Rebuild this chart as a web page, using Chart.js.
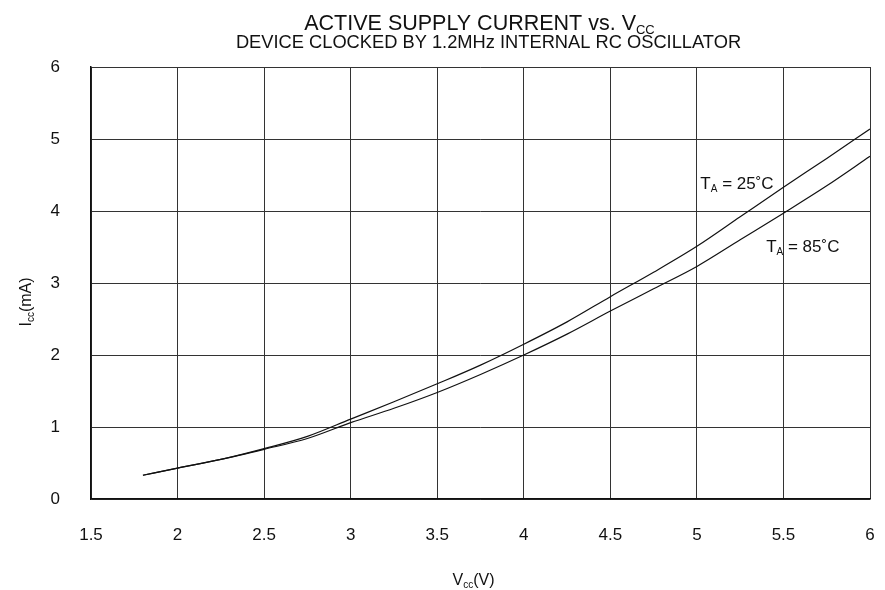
<!DOCTYPE html>
<html lang="en">
<head>
    <meta charset="UTF-8">
    <title>Active Supply Current vs. Vcc</title>
    <style>
        body { margin: 0; background: #fff; }
        #wrap { width: 885px; height: 590px; }
    </style>
</head>
<body>
    <div id="wrap"><canvas id="myChart"></canvas></div>

    <script src="https://cdn.jsdelivr.net/npm/chart.js"></script>
    <script>
        // Vcc (V)
        const vcc = [1.8, 2.0, 2.25, 2.5, 2.75, 3.0, 3.25, 3.5, 3.75, 4.0, 4.25, 4.5, 4.75, 5.0, 5.25, 5.5, 5.75, 6.0]
        // Icc (mA)
        const icc25 = [0.33, 0.43, 0.55, 0.70, 0.87, 1.11, 1.35, 1.60, 1.86, 2.15, 2.46, 2.81, 3.15, 3.51, 3.92, 4.33, 4.73, 5.14]
        const icc85 = [0.33, 0.43, 0.55, 0.69, 0.84, 1.06, 1.26, 1.48, 1.73, 2.00, 2.29, 2.61, 2.92, 3.23, 3.60, 3.97, 4.35, 4.76]
        const xTicks = [1.5, 2, 2.5, 3, 3.5, 4, 4.5, 5, 5.5, 6]
        const yTicks = [0, 1, 2, 3, 4, 5, 6]

        const FONT = '"Liberation Sans", Arial, sans-serif'

        function pts(ys) {
            return vcc.map((v, i) => ({ x: v, y: ys[i] }))
        }

        // text with a subscript part: parts = [[text, sub?], ...]
        function drawParts(c, parts, x, y, size, align) {
            const subSize = Math.round(size * 0.6)
            let total = 0
            parts.forEach(p => {
                c.font = (p[1] ? subSize : size) + 'px ' + FONT
                total += c.measureText(p[0]).width
            })
            let cx = align == 'center' ? x - total / 2 : x
            c.textAlign = 'left'
            c.textBaseline = 'alphabetic'
            parts.forEach(p => {
                c.font = (p[1] ? subSize : size) + 'px ' + FONT
                c.fillText(p[0], cx, p[1] ? y + size * 0.18 : y)
                cx += c.measureText(p[0]).width
            })
        }

        const labelsPlugin = {
            id: 'labels',
            afterDraw(chart) {
                const c = chart.ctx
                const a = chart.chartArea
                const mid = (a.left + a.right) / 2
                c.save()
                c.fillStyle = '#111'
                drawParts(c, [['ACTIVE SUPPLY CURRENT vs. V', false], ['CC', true]], mid - 1, 30, 21.5, 'center')
                drawParts(c, [['DEVICE CLOCKED BY 1.2MHz INTERNAL RC OSCILLATOR', false]], mid + 8, 48, 18.3, 'center')
                drawParts(c, [['V', false], ['cc', true], ['(V)', false]], mid - 7, 585, 16, 'center')

                c.save()
                c.translate(26, 302)
                c.rotate(-Math.PI / 2)
                drawParts(c, [['I', false], ['cc', true], ['(mA)', false]], 0, 5, 16, 'center')
                c.restore()

                const xs = chart.scales.x, ys = chart.scales.y
                drawParts(c, [['T', false], ['A', true], [' = 25\u02daC', false]], xs.getPixelForValue(5.02), ys.getPixelForValue(4.31), 17, 'left')
                drawParts(c, [['T', false], ['A', true], [' = 85\u02daC', false]], xs.getPixelForValue(5.4), ys.getPixelForValue(3.43), 17, 'left')
                c.restore()
            }
        }

        const ctx = document.getElementById('myChart')
        myChart = new Chart(ctx, {
            type: 'line',
            data: {
                datasets: [{
                    label: 'TA = 25°C',
                    data: pts(icc25),
                    borderColor: '#111',
                    borderWidth: 1.2,
                    pointRadius: 0,
                    cubicInterpolationMode: 'monotone',
                    fill: false
                }, {
                    label: 'TA = 85°C',
                    data: pts(icc85),
                    borderColor: '#111',
                    borderWidth: 1.2,
                    pointRadius: 0,
                    cubicInterpolationMode: 'monotone',
                    fill: false
                }]
            },
            options: {
                responsive: true,
                maintainAspectRatio: false,
                animation: false,
                layout: { padding: { top: 67, right: 0, left: 0, bottom: 0 } },
                plugins: {
                    legend: { display: false },
                    tooltip: { enabled: false }
                },
                scales: {
                    x: {
                        type: 'linear',
                        min: 1.5,
                        max: 6,
                        afterFit: s => { s.height = 91; s.paddingRight = 15 },
                        afterBuildTicks: s => { s.ticks = xTicks.map(v => ({ value: v })) },
                        grid: { color: '#333', lineWidth: 1, drawTicks: false },
                        border: { color: '#111', width: 1.5 },
                        ticks: {
                            padding: 26,
                            color: '#111',
                            font: { family: FONT, size: 17 },
                            maxRotation: 0,
                            callback: v => String(v)
                        }
                    },
                    y: {
                        min: 0,
                        max: 6,
                        afterFit: s => { s.width = 91 },
                        afterBuildTicks: s => { s.ticks = yTicks.map(v => ({ value: v })) },
                        grid: { color: '#333', lineWidth: 1, drawTicks: false },
                        border: { color: '#111', width: 1.5 },
                        ticks: {
                            padding: 31,
                            color: '#111',
                            font: { family: FONT, size: 17 }
                        }
                    }
                }
            },
            plugins: [labelsPlugin]
        })
    </script>
</body>
</html>
